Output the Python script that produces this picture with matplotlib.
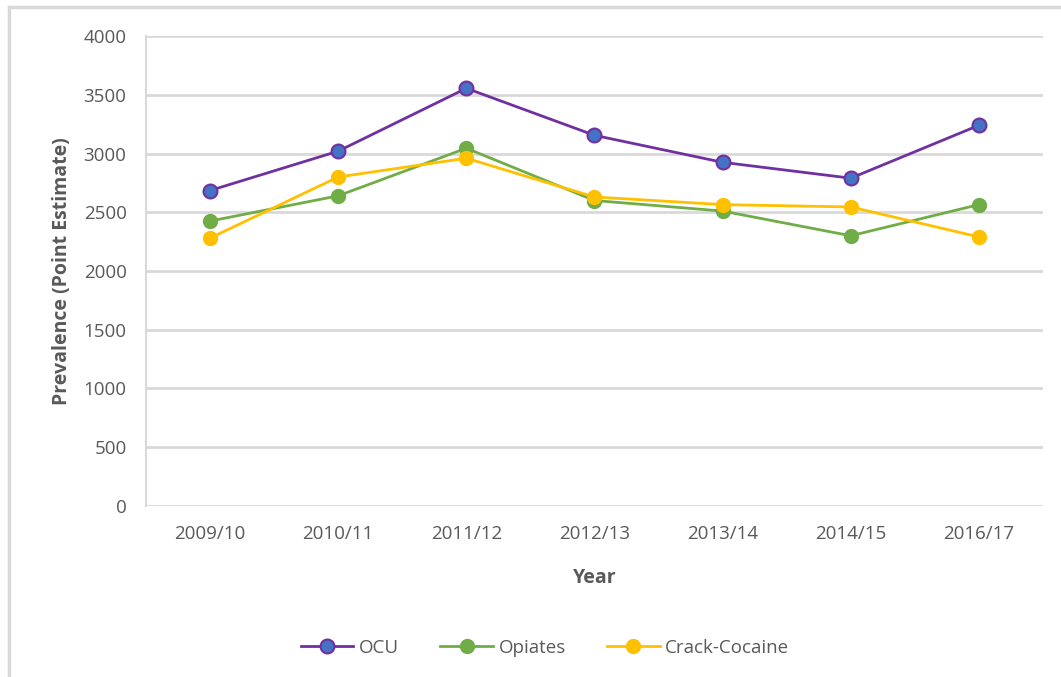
import matplotlib.pyplot as plt
from matplotlib.lines import Line2D

years = ["2009/10", "2010/11", "2011/12", "2012/13", "2013/14", "2014/15", "2016/17"]
ocu = [2685, 3020, 3555, 3155, 2925, 2790, 3240]
opiates = [2425, 2640, 3045, 2600, 2510, 2300, 2565]
crack = [2280, 2800, 2960, 2630, 2565, 2545, 2290]

plt.rcParams['font.family'] = ['Open Sans', 'DejaVu Sans']
grey = '#595959'

fig = plt.figure(figsize=(10.61, 6.77), dpi=100)
ax = fig.add_axes([0.1376, 0.2526, 0.8454, 0.6942])

x = range(len(years))
ax.plot(x, ocu, color='#7030A0', lw=2, marker='o', ms=10,
        mfc='#4472C4', mec='#7030A0', mew=1.5, label='OCU', zorder=4)
ax.plot(x, opiates, color='#70AD47', lw=2, marker='o', ms=10,
        mfc='#70AD47', mec='#70AD47', label='Opiates', zorder=3)
ax.plot(x, crack, color='#FFC000', lw=2, marker='o', ms=10,
        mfc='#FFC000', mec='#FFC000', label='Crack-Cocaine', zorder=3)

ax.set_xlim(-0.5, len(years) - 0.5)
ax.set_ylim(0, 4000)
ax.set_yticks(range(0, 4001, 500))
ax.set_xticks(list(x))
ax.set_xticklabels(years)
ax.grid(axis='y', color='#D9D9D9', lw=2)
ax.set_axisbelow(True)
for s in ['top', 'right', 'bottom']:
    ax.spines[s].set_visible(False)
ax.spines['left'].set_color('#D9D9D9')
ax.spines['left'].set_linewidth(1.5)
ax.tick_params(length=0, colors=grey, labelsize=13.5)
ax.tick_params(axis='x', pad=14)
ax.tick_params(axis='y', pad=14)

ax.set_xlabel('Year', fontsize=14, fontweight='bold', color=grey, labelpad=18)
ax.set_ylabel('Prevalence (Point Estimate)', fontsize=14, fontweight='bold',
              color=grey, labelpad=8)

ax.legend(loc='center', bbox_to_anchor=(0.445, -0.302), ncol=3, frameon=False,
          fontsize=13.5, labelcolor=grey, handlelength=2.8, columnspacing=2.2,
          handletextpad=0.3)

# outer frame of the chart box
fig.add_artist(Line2D([0.0085, 0.0085], [0, 0.99], color='#D9D9D9', lw=2.5))
fig.add_artist(Line2D([0.0085, 1], [0.99, 0.99], color='#D9D9D9', lw=2.5))

fig.savefig('out.png', dpi=100)
